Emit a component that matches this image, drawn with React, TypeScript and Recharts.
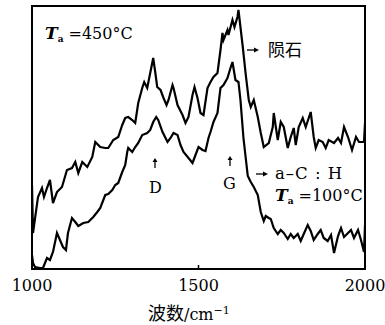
import { LineChart, Line, XAxis, YAxis, ReferenceArea, ReferenceLine } from 'recharts';

const xTicks = [1000, 1500, 2000];

// 陨石 (meteorite) Raman spectrum: [wavenumber cm-1, intensity a.u.]
const meteorite: [number, number][] = [
  [1000, 84], [1003, 36], [1018, 72], [1030, 81], [1036, 72], [1045, 81], [1054, 89],
  [1063, 66], [1075, 77], [1090, 82], [1105, 99], [1120, 101], [1130, 107], [1139, 96],
  [1151, 107], [1166, 102], [1181, 112], [1190, 127], [1205, 122], [1220, 121], [1229, 121],
  [1244, 129], [1259, 132], [1271, 144], [1280, 151], [1289, 152], [1301, 149], [1310, 146],
  [1319, 166], [1331, 181], [1337, 187], [1346, 181], [1352, 191], [1361, 206], [1364, 211],
  [1370, 197], [1376, 182], [1386, 179], [1395, 171], [1404, 164], [1410, 169], [1422, 184],
  [1425, 181], [1437, 164], [1452, 154], [1461, 146], [1470, 152], [1482, 174], [1488, 182],
  [1497, 171], [1506, 156], [1515, 154], [1527, 181], [1536, 187], [1545, 192], [1557, 196],
  [1566, 219], [1572, 236], [1575, 229], [1587, 239], [1590, 234], [1602, 249], [1608, 242],
  [1617, 252], [1620, 259], [1633, 222], [1642, 194], [1651, 169], [1657, 162], [1666, 169],
  [1678, 152], [1687, 136], [1696, 122], [1711, 126], [1723, 142], [1726, 156], [1738, 129],
  [1747, 147], [1756, 142], [1768, 121], [1777, 132], [1786, 141], [1792, 124], [1801, 142],
  [1813, 151], [1822, 142], [1837, 157], [1846, 132], [1852, 121], [1861, 129], [1873, 127],
  [1882, 121], [1891, 129], [1907, 126], [1919, 131], [1928, 126], [1937, 142], [1949, 132],
  [1961, 119], [1973, 132], [1982, 127], [1997, 127], [2000, 146],
];

// a-C:H film, Ta = 100°C
const acH: [number, number][] = [
  [1000, 14], [1003, 6], [1009, 2], [1024, 1], [1033, 1], [1045, 11], [1054, 9], [1063, 17],
  [1075, 36], [1084, 29], [1093, 22], [1102, 19], [1108, 36], [1120, 51], [1130, 47],
  [1139, 43], [1154, 46], [1169, 47], [1184, 52], [1196, 57], [1205, 61], [1220, 74],
  [1229, 75], [1241, 79], [1250, 84], [1259, 86], [1271, 97], [1280, 104], [1286, 117],
  [1289, 121], [1301, 117], [1310, 122], [1319, 126], [1331, 134], [1346, 136], [1355, 139],
  [1364, 147], [1373, 152], [1379, 149], [1392, 137], [1407, 127], [1416, 131], [1425, 136],
  [1437, 134], [1446, 124], [1455, 117], [1470, 111], [1482, 106], [1491, 114], [1500, 122],
  [1512, 119], [1521, 118], [1530, 131], [1536, 137], [1545, 147], [1557, 156], [1566, 181],
  [1575, 184], [1587, 191], [1596, 201], [1602, 207], [1611, 189], [1620, 187], [1626, 169],
  [1635, 131], [1648, 93], [1657, 87], [1666, 82], [1678, 74], [1687, 57], [1696, 48],
  [1702, 53], [1711, 51], [1717, 50], [1726, 41], [1738, 35], [1747, 39], [1756, 36],
  [1768, 30], [1777, 35], [1786, 31], [1798, 35], [1807, 28], [1816, 35], [1828, 44],
  [1837, 38], [1846, 29], [1858, 35], [1867, 39], [1876, 31], [1888, 28], [1898, 34],
  [1907, 16], [1919, 33], [1928, 41], [1937, 32], [1949, 36], [1958, 39], [1967, 31],
  [1979, 39], [1988, 29], [1997, 17], [2000, 44],
];

const toRows = (pts: [number, number][]) => pts.map(([w, v]) => ({ w, v }));

const serif = '"DejaVu Serif", "Liberation Serif", serif';
const cjk = '"Noto Sans CJK SC", sans-serif';

function Note({ left, top, size = 16, children, style }: any) {
  return (
    <div
      style={{
        position: 'absolute', left, top, fontSize: size, lineHeight: `${size}px`,
        fontFamily: serif, color: '#000', whiteSpace: 'nowrap', ...style,
      }}
    >
      {children}
    </div>
  );
}

// small pointer arrows used in the annotations
function Arrow({ left, top, dir }: { left: number; top: number; dir: 'up' | 'right' }) {
  const up = dir === 'up';
  return (
    <svg
      width={up ? 6 : 12}
      height={up ? 10 : 6}
      style={{ position: 'absolute', left, top, overflow: 'visible' }}
    >
      {up ? (
        <>
          <line x1={3} y1={3} x2={3} y2={10} stroke="#000" strokeWidth={1.3} />
          <polygon points="0.5,4 3,0 5.5,4" fill="#000" />
        </>
      ) : (
        <>
          <line x1={0} y1={3} x2={8} y2={3} stroke="#000" strokeWidth={1.3} />
          <polygon points="7,0.5 12,3 7,5.5" fill="#000" />
        </>
      )}
    </svg>
  );
}

function Ta({ rest }: { rest: string }) {
  return (
    <>
      <span style={{ fontWeight: 'bold', fontStyle: 'italic', fontSize: 17 }}>T</span>
      <span style={{ fontWeight: 'bold', fontSize: 9, position: 'relative', top: 3 }}>a</span>
      <span style={{ marginLeft: 5 }}>{rest}</span>
    </>
  );
}

export default function App() {
  return (
    <div style={{ position: 'absolute', left: 0, top: 0, width: 385, height: 325, background: '#fff', overflow: 'hidden' }}>
      <LineChart width={385} height={325} margin={{ top: 6, right: 20, bottom: 6, left: 32 }}>
        <XAxis
          type="number"
          dataKey="w"
          domain={[1000, 2000]}
          ticks={xTicks}
          allowDataOverflow
          axisLine={false}
          tickLine={false}
          tickMargin={5}
          height={50}
          tick={{ fill: '#000', fontSize: 16, fontFamily: serif }}
        />
        <YAxis hide type="number" domain={[0, 263]} allowDataOverflow />
        <ReferenceArea x1={1000} x2={2000} y1={0} y2={263} fill="none" stroke="#000" strokeWidth={2} />
        <ReferenceLine segment={[{ x: 1500, y: 0 }, { x: 1500, y: 4 }]} stroke="#000" strokeWidth={1.5} />
        <Line data={toRows(meteorite)} dataKey="v" type="linear" stroke="#000" strokeWidth={2.2} dot={false} isAnimationActive={false} />
        <Line data={toRows(acH)} dataKey="v" type="linear" stroke="#000" strokeWidth={2.2} dot={false} isAnimationActive={false} />
      </LineChart>

      <Note left={45} top={25}><Ta rest="=450°C" /></Note>
      <Arrow left={247} top={47} dir="right" />
      <Note left={268} top={40} size={17} style={{ fontFamily: cjk }}>陨石</Note>

      <Arrow left={152} top={158} dir="up" />
      <Note left={149} top={180}>D</Note>
      <Arrow left={227} top={156} dir="up" />
      <Note left={223} top={176}>G</Note>

      <Arrow left={256} top={171} dir="right" />
      <Note left={275} top={166} size={16.5} style={{ letterSpacing: 1 }}>a–C : H</Note>
      <Note left={275} top={187}><Ta rest="=100°C" /></Note>

      <Note left={148} top={302} size={18} style={{ fontFamily: cjk, lineHeight: '20px' }}>
        波数<span style={{ fontFamily: serif, fontSize: 16 }}>/cm</span>
        <span style={{ fontFamily: serif, fontSize: 11, position: 'relative', top: -6 }}>−1</span>
      </Note>
    </div>
  );
}
